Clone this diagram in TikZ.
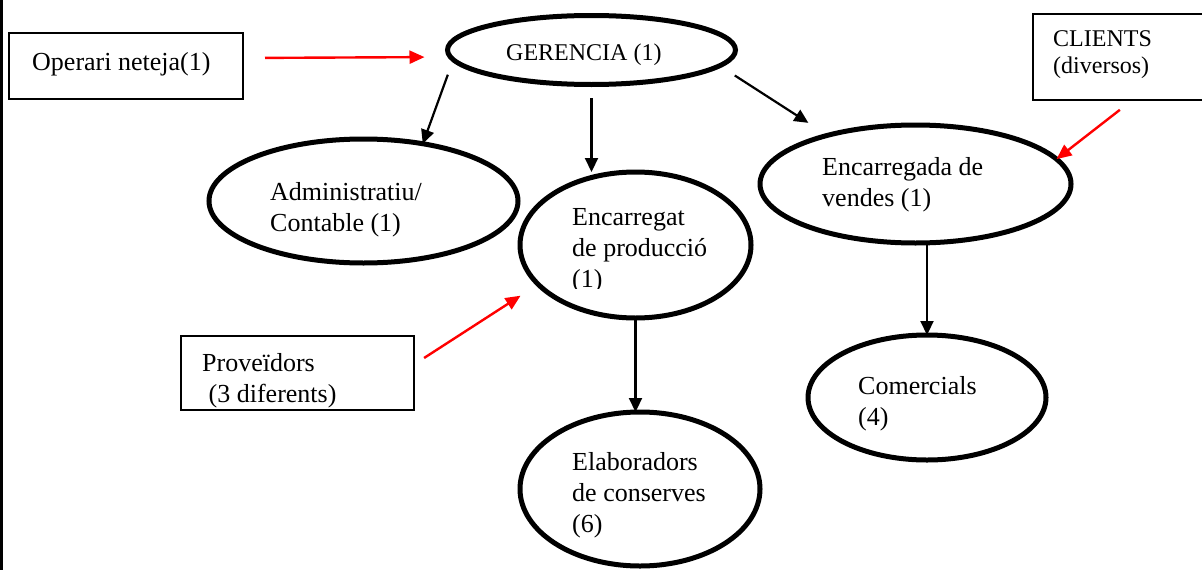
\documentclass[tikz,border=0pt]{standalone}
\usepackage{fontspec}
\setmainfont{Liberation Serif}
\usetikzlibrary{shapes.geometric,arrows.meta,calc}
\begin{document}
\begin{tikzpicture}[x=1pt,y=-1pt,
  ell/.style={ellipse, draw, line width=5pt, inner sep=0pt, outer sep=0pt},
  boxn/.style={draw, line width=1.8pt, inner sep=0pt, outer sep=0pt},
  txt/.style={font=\fontsize{26}{31}\selectfont, align=left, anchor=base west, inner sep=0pt},
  stxt/.style={font=\fontsize{24}{27}\selectfont, align=left, anchor=base west, inner sep=0pt},
  blk/.style={line width=2.2pt, -{Triangle[length=14pt,width=13pt]}},
  redarr/.style={red, line width=2.4pt, -{Triangle[length=15pt,width=13pt]}}
]
\useasboundingbox (0,0) rectangle (1202,570);
\clip (0,0) rectangle (1202,570);
\draw[line width=2.8pt] (1.5,0) -- (1.5,570);

% boxes (text anchors sit on the baseline of the last line)
\node[boxn, minimum width=234pt, minimum height=66pt] (op) at (126,66) {};
\node[txt] (opt) at (32,70) {Operari neteja(1)};
\node[boxn, minimum width=173pt, minimum height=86pt] (cli) at (1119.5,57) {};
\node[stxt] (clit) at (1053,73) {CLIENTS\\(diversos)};
\node[boxn, minimum width=233pt, minimum height=74pt] (prov) at (297.5,373) {};
\node[txt] (provt) at (202,402) {Proveïdors\\\ (3 diferents)};

% ellipses
\node[ell, minimum width=288pt, minimum height=69pt] (ger) at (591.5,50) {};
\node[stxt] (gert) at (506,60) {GERENCIA (1)};
\node[ell, minimum width=309pt, minimum height=124pt] (adm) at (363.5,201) {};
\node[txt] (admt) at (270,231) {Administratiu/\\Contable (1)};
\node[ell, minimum width=231pt, minimum height=146pt] (prod) at (635.5,245) {};
\begin{scope}
\clip (0,0) rectangle (1202,288);
\node[txt] (prodt) at (572,287) {Encarregat\\de producció\\(1)};
\end{scope}
\node[ell, minimum width=311pt, minimum height=118pt] (vend) at (915.5,184) {};
\node[txt] (vendt) at (822,206) {Encarregada de\\vendes (1)};
\node[ell, minimum width=238pt, minimum height=125pt] (com) at (927,397.5) {};
\node[txt] (comt) at (858,425) {Comercials\\(4)};
\node[ell, minimum width=240pt, minimum height=154pt] (elab) at (640,489) {};
\node[txt] (elabt) at (572,532) {Elaboradors\\de conserves\\(6)};

% black connectors
\draw[blk, shorten <=16pt] (ger.184) -- (adm.44);
\draw[blk, shorten <=13.5pt] (ger.south) -- (ger.south |- prod.north);
\draw[blk, shorten <=18pt, shorten >=23pt] (ger.-7) -- (vend.151);
\draw[blk] (com.north |- vend.south) -- (com.north);
\draw[blk] (prod.south) -- (prod.south |- elab.north);

% red connectors
\draw[redarr, shorten <=22pt, shorten >=23pt] ([yshift=8pt]op.east) -- ([yshift=-7pt]ger.west);
\draw[redarr, shorten <=12pt, shorten >=21pt] ([yshift=8.5pt]prov.east) -- (prod.202);
\draw[redarr, shorten <=16pt] ([xshift=13pt]cli.south) -- (vend.10);
\end{tikzpicture}
\end{document}
